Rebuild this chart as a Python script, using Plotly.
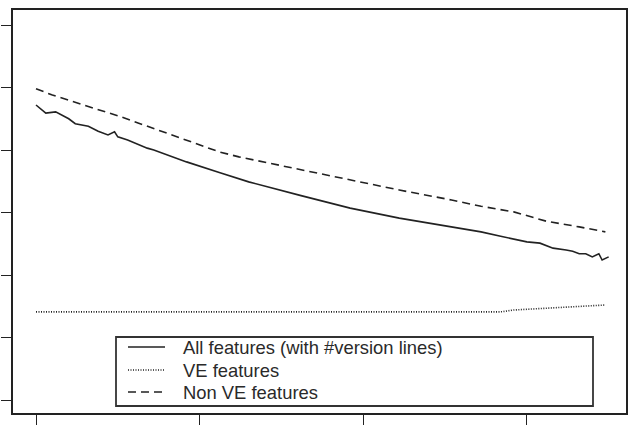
import plotly.graph_objects as go

# ---- data ----
all_x = [0, 3, 6, 8, 10, 12, 16, 19, 22, 24, 25, 28, 34, 36, 46, 56, 65, 81, 96,
         111, 127, 136, 142, 150, 154, 158, 162, 164, 166, 168, 170, 172, 173, 175]
all_y = [47.2, 45.9, 46.1, 45.6, 45.0, 44.2, 43.8, 43.0, 42.4, 42.9, 42.1, 41.6,
         40.3, 40.0, 38.1, 36.4, 34.9, 32.7, 30.7, 29.1, 27.7, 26.9, 26.2, 25.3,
         25.1, 24.3, 24.0, 23.8, 23.4, 23.4, 22.9, 23.4, 22.4, 22.9]

ve_x = [0, 50, 100, 142, 146, 156, 166, 174]
ve_y = [14.1, 14.1, 14.1, 14.1, 14.4, 14.7, 14.9, 15.2]

nonve_x = [0, 5, 26, 56, 62, 81, 100, 111, 127, 136, 146, 156, 166, 174]
nonve_y = [49.8, 48.8, 45.3, 39.7, 38.9, 36.8, 34.7, 33.6, 32.0, 31.0, 30.1,
           28.6, 27.7, 26.9]

x_ticks = [0, 50, 100, 150]
y_ticks = [0, 10, 20, 30, 40, 50, 60]

names = ["All features (with #version lines)", "VE features", "Non VE features"]
dashes = ["solid", "1px,1.5px", "8px,5px"]

W, H = 636, 425
ML, MR, MT, MB = 13, 10, 10, 12

fig = go.Figure()
for xs, ys, nm, ds in [(all_x, all_y, names[0], dashes[0]),
                       (ve_x, ve_y, names[1], dashes[1]),
                       (nonve_x, nonve_y, names[2], dashes[2])]:
    fig.add_trace(go.Scatter(x=xs, y=ys, mode="lines", name=nm,
                             line=dict(color="#222222", width=1.6, dash=ds),
                             showlegend=False))

pw = W - ML - MR
ph = H - MT - MB


def px2paper(px, py):
    return (px - ML) / pw, (H - MB - py) / ph


shapes = []
annotations = []
# legend box
x0, y0 = px2paper(116, 406)
x1, y1 = px2paper(593, 337)
shapes.append(dict(type="rect", xref="paper", yref="paper", x0=x0, y0=y0, x1=x1, y1=y1,
                   line=dict(color="#333333", width=1.8), fillcolor="rgba(0,0,0,0)"))
rows = [347, 370, 392]
for nm, ds, ry in zip(names, dashes, rows):
    lx0, ly = px2paper(128, ry)
    lx1, _ = px2paper(165, ry)
    shapes.append(dict(type="line", xref="paper", yref="paper", x0=lx0, x1=lx1, y0=ly, y1=ly,
                       line=dict(color="#222222", width=1.6, dash=ds)))
    tx, _ = px2paper(182, ry)
    annotations.append(dict(xref="paper", yref="paper", x=tx, y=ly, text=nm, showarrow=False,
                            xanchor="left", yanchor="middle", borderpad=0,
                            font=dict(family="Liberation Sans, Arial", size=18.4, color="#2a2a2a")))

fig.update_layout(
    width=W, height=H,
    margin=dict(l=ML, r=MR, t=MT, b=MB, pad=0, autoexpand=False),
    paper_bgcolor="white", plot_bgcolor="white",
    shapes=shapes, annotations=annotations,
    xaxis=dict(range=[-7.03, 180.3], tickvals=x_ticks, showticklabels=False,
               ticks="outside", ticklen=12, tickwidth=1.4, tickcolor="#222222",
               showgrid=False, zeroline=False, showline=True, mirror=True,
               linecolor="#222222", linewidth=1.8, automargin=False),
    yaxis=dict(range=[-2.08, 62.4], tickvals=y_ticks, showticklabels=False,
               ticks="outside", ticklen=10, tickwidth=1.4, tickcolor="#222222",
               showgrid=False, zeroline=False, showline=True, mirror=True,
               linecolor="#222222", linewidth=1.8, automargin=False),
)

fig.write_html("out.html")
